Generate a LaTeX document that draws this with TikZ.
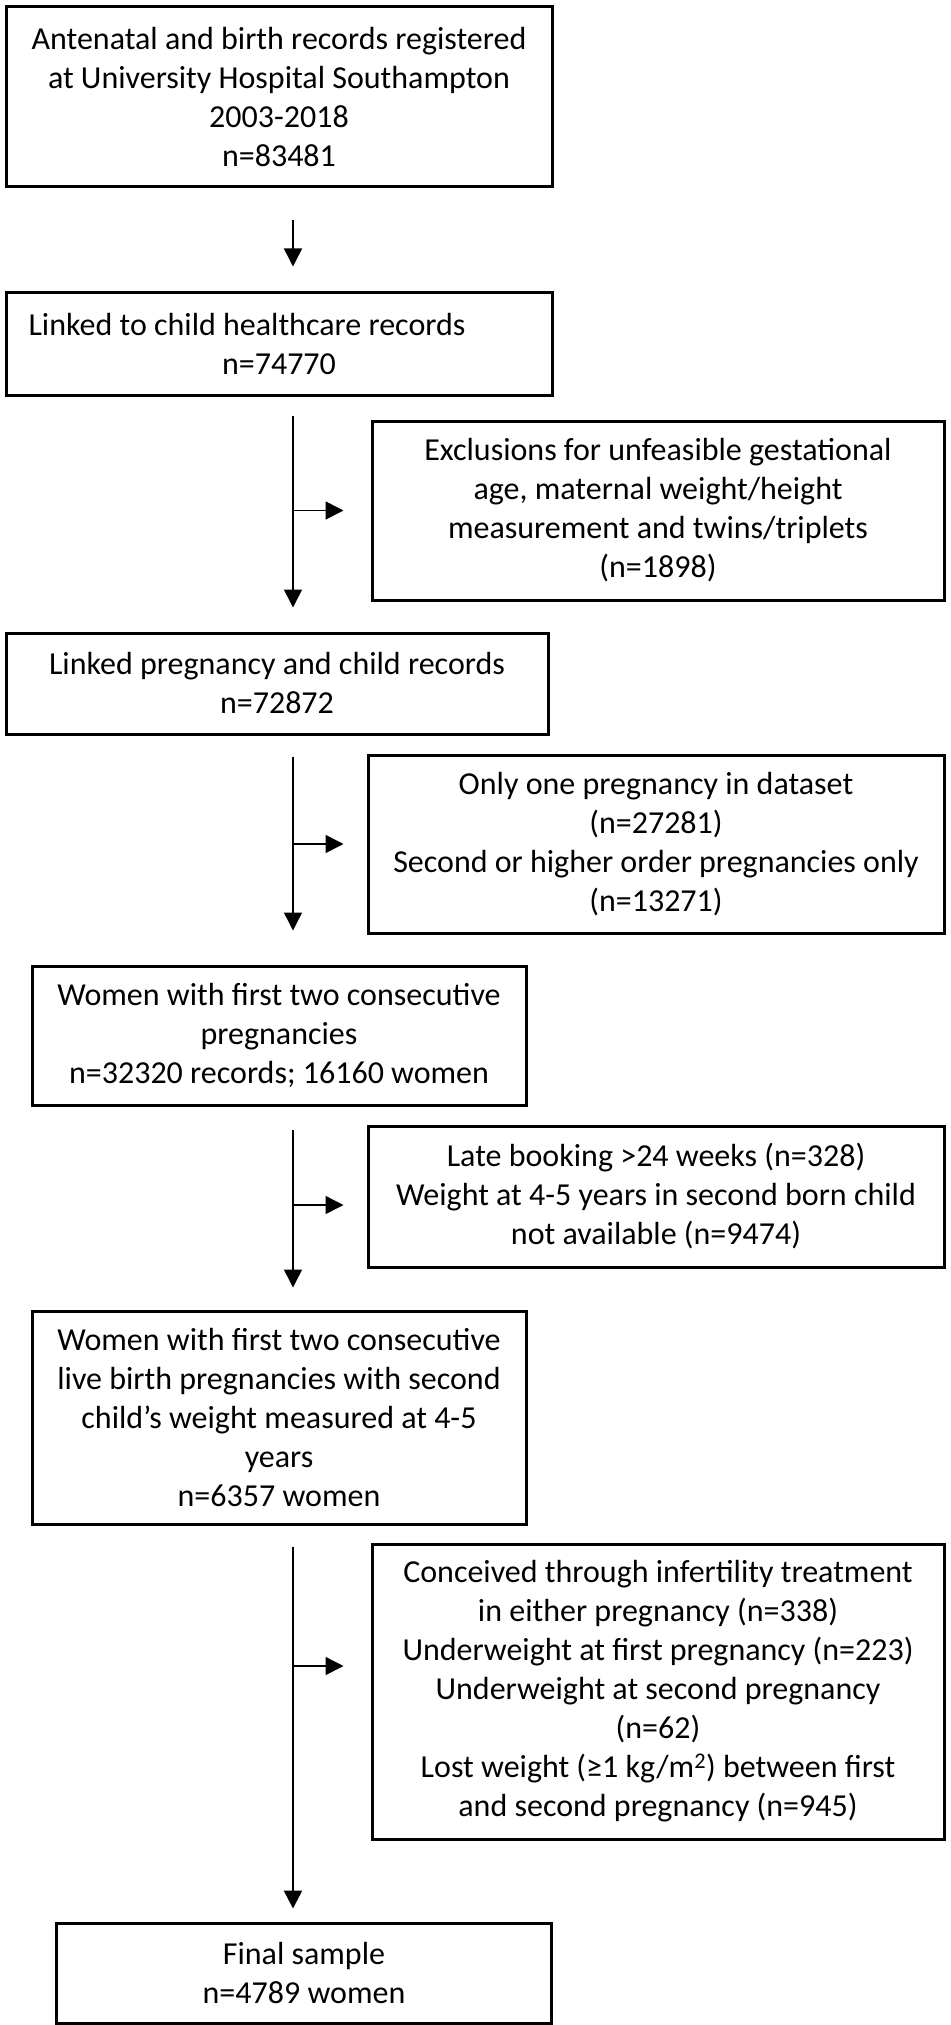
\documentclass[tikz,border=0pt]{standalone}
\usepackage{fontspec}
\setmainfont{Carlito}
\usetikzlibrary{arrows.meta,calc}

\begin{document}
\begin{tikzpicture}[->,>={Triangle[length=18pt,width=18pt]},x=1pt,y=-1pt,
        box/.style={draw,line width=3pt,align=center,inner sep=0pt,
          font=\fontsize{32}{39}\selectfont},
        flow/.style={line width=1.5pt}]

  \useasboundingbox (0,0) rectangle (950,2025);
  \coordinate (spine) at (293,0);

  \node[box,minimum width=546pt,minimum height=180pt] (rec) at (279,97)
    {Antenatal and birth records registered\\at University Hospital Southampton\\2003-2018\\n=83481};
  \node[box,minimum width=546pt,minimum height=102pt] (linked) at (279,344)
    {Linked to child healthcare records\hspace*{64pt}\\n=74770};
  \node[box,minimum width=572pt,minimum height=179pt] (excl1) at (658,510.5)
    {Exclusions for unfeasible gestational\\age, maternal weight/height\\measurement and twins/triplets\\(n=1898)};
  \node[box,minimum width=542pt,minimum height=101pt] (pairs) at (277,683.5)
    {Linked pregnancy and child records\\n=72872};
  \node[box,minimum width=576pt,minimum height=178pt] (excl2) at (656,844)
    {Only one pregnancy in dataset\\(n=27281)\\Second or higher order pregnancies only\\(n=13271)};
  \node[box,minimum width=494pt,minimum height=139pt] (women) at (279,1035.5)
    {Women with first two consecutive\\pregnancies\\n=32320 records; 16160 women};
  \node[box,minimum width=576pt,minimum height=141pt] (excl3) at (656,1196.5)
    {Late booking >24 weeks (n=328)\\Weight at 4-5 years in second born child\\not available (n=9474)};
  \node[box,minimum width=494pt,minimum height=213pt] (live) at (279,1417.5)
    {Women with first two consecutive\\live birth pregnancies with second\\child’s weight measured at 4-5\\years\\n=6357 women};
  \node[box,minimum width=572pt,minimum height=295pt] (excl4) at (658,1691.5)
    {Conceived through infertility treatment\\in either pregnancy (n=338)\\Underweight at first pregnancy (n=223)\\Underweight at second pregnancy\\(n=62)\\Lost weight (≥1 kg/m\textsuperscript{2}) between first\\and second pregnancy (n=945)};
  \node[box,minimum width=495pt,minimum height=100pt] (final) at (304,1973)
    {Final sample\\n=4789 women};

  % main flow
  \draw[flow,shorten <=32pt,shorten >=25pt] (rec.south -| spine) -- (linked.north -| spine);
  \draw[flow,shorten <=19pt,shorten >=24pt] (linked.south -| spine) -- (pairs.north -| spine);
  \draw[flow,shorten <=21pt,shorten >=34pt] (pairs.south -| spine) -- (women.north -| spine);
  \draw[flow,shorten <=23pt,shorten >=22pt] (women.south -| spine) -- (live.north -| spine);
  \draw[flow,line width=2.5pt,shorten <=21pt,shorten >=13pt] (live.south -| spine) -- (final.north -| spine);

  % exclusions
  \draw[flow,shorten >=27pt] (spine |- excl1.west) -- (excl1.west);
  \draw[flow,shorten >=23pt] (spine |- excl2.west) -- (excl2.west);
  \draw[flow,shorten >=23pt] ($(spine |- excl3.west)+(0,8.5)$) -- ($(excl3.west)+(0,8.5)$);
  \draw[flow,shorten >=27pt] ($(spine |- excl4.west)+(0,-25.5)$) -- ($(excl4.west)+(0,-25.5)$);

\end{tikzpicture}
\end{document}
